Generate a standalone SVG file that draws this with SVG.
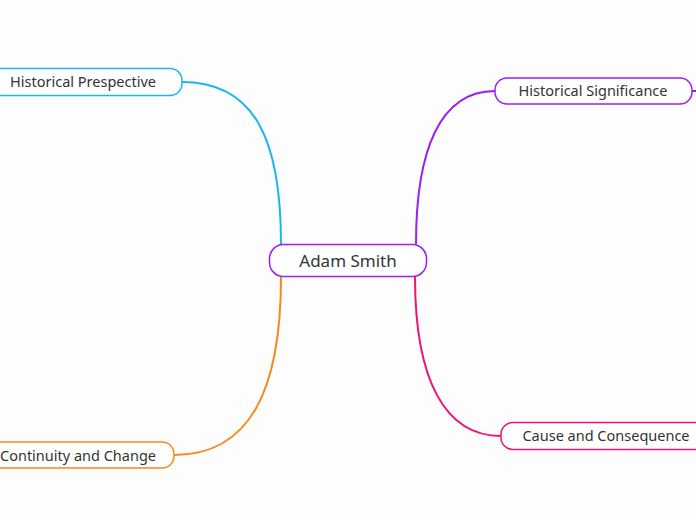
<svg xmlns="http://www.w3.org/2000/svg" width="696" height="520" viewBox="0 0 696 520">
<style>
.node rect{fill:#ffffff;stroke-width:1.5}
.node text{font-family:"Noto Sans","Liberation Sans",sans-serif;font-size:14.5px;fill:#333333;text-anchor:middle}
#center text{font-size:17px}
#connectors path{fill:none;stroke-width:2}
</style>
<rect width="696" height="520" fill="#fdfdfe"/>
<g id="connectors">
<path d="M182,82 C255,82 281,140 281,244" stroke="#1cb6ef"/>
<path d="M495,91 C440,91 416,150 416,244" stroke="#9a1ff0"/>
<path d="M174,455 C250,455 281,390 281,277" stroke="#f7891b"/>
<path d="M501,436 C445,436 415,380 415,277" stroke="#ef1570"/>
<path d="M692,91 L696,91" stroke="#9a1ff0"/>
</g>
<g id="center" class="node">
<rect x="269.5" y="244.5" width="157" height="32" rx="14" stroke="#9a1ff0" stroke-width="2"/>
<text x="348" y="267">Adam Smith</text>
</g>
<g id="n-prespective" class="node">
<rect x="-12" y="68.5" width="194" height="27" rx="12" stroke="#1cb6ef"/>
<text x="83" y="87">Historical Prespective</text>
</g>
<g id="n-significance" class="node">
<rect x="495" y="78" width="197" height="26" rx="12" stroke="#9a1ff0"/>
<text x="593" y="96">Historical Significance</text>
</g>
<g id="n-continuity" class="node">
<rect x="-20" y="442" width="194" height="26" rx="12" stroke="#f7891b"/>
<text x="78" y="461">Continuity and Change</text>
</g>
<g id="n-cause" class="node">
<rect x="501" y="422.5" width="210" height="27" rx="12" stroke="#ef1570"/>
<text x="606" y="441">Cause and Consequence</text>
</g>
</svg>
